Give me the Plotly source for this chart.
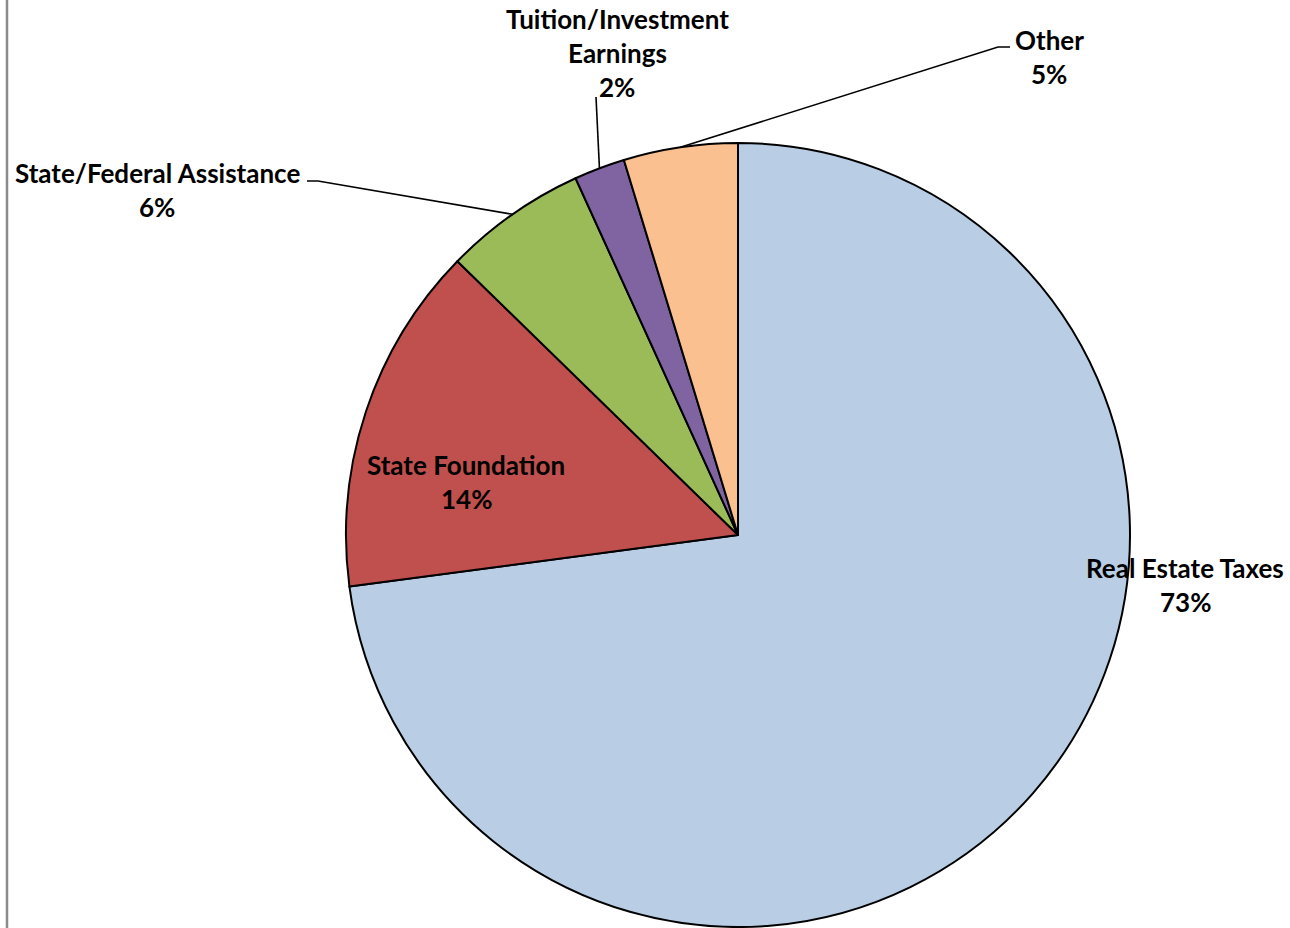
import math
import plotly.graph_objects as go

# ---- data ----
categories = ["Real Estate Taxes", "State Foundation", "State/Federal Assistance",
              "Tuition/Investment Earnings", "Other"]
values = [72.9, 14.4, 5.9, 2.1, 4.7]
colors = ["#B9CDE5", "#C0504D", "#9BBB59", "#8064A2", "#FAC090"]

# label lines (text split as in the reference)
label_lines = [
    ["Real Estate Taxes"],
    ["State Foundation"],
    ["State/Federal Assistance"],
    ["Tuition/Investment", "Earnings"],
    ["Other"],
]

# ---- layout geometry (pixels) ----
W, H = 1290, 928
CX, CY, R = 738, 535, 392
# top-line centre of each label block
label_pos = [(1185, 568), (466, 465), (157, 173), (617, 19), (1049, 40)]
LINE_GAP = 34
# leader line elbow points (None = no leader)
leader_elbow = [None, None, [(307, 181), (318, 181)], [(596, 97)], [(1010, 47), (998, 47)]]

FONT = "Lato"
FS = 26


def px(x):
    return x / W


def py(y):
    return 1 - y / H


fig = go.Figure(go.Pie(
    labels=categories,
    values=values,
    sort=False,
    direction="clockwise",
    rotation=0,
    marker=dict(colors=colors, line=dict(color="black", width=2)),
    textinfo="none",
    hoverinfo="label+percent",
    showlegend=False,
    domain=dict(x=[px(CX - R), px(CX + R)], y=[py(CY + R), py(CY - R)]),
))

annotations = []
shapes = []
total = sum(values)
cum = 0.0
for i, (cat, v) in enumerate(zip(categories, values)):
    mid = (cum + v / 2) / total * 2 * math.pi
    cum += v
    lines = label_lines[i] + [f"{round(v / total * 100)}%"]
    lx, ly = label_pos[i]
    for k, t in enumerate(lines):
        annotations.append(dict(
            x=px(lx), y=py(ly + k * LINE_GAP), xref="paper", yref="paper",
            text=t, showarrow=False, xanchor="center", yanchor="middle",
            font=dict(family=FONT, size=FS, color="black", weight="bold"),
        ))
    if leader_elbow[i]:
        ex = CX + R * math.sin(mid)
        ey = CY - R * math.cos(mid)
        pts = leader_elbow[i] + [(ex, ey)]
        path = "M " + " L ".join(f"{px(a)},{py(b)}" for a, b in pts)
        shapes.append(dict(type="path", xref="paper", yref="paper", path=path,
                           line=dict(color="black", width=1.6)))

# left frame line
shapes.append(dict(type="line", xref="paper", yref="paper",
                   x0=px(7), x1=px(7), y0=0, y1=1,
                   line=dict(color="#8C8C8C", width=2.5)))

fig.update_layout(
    width=W, height=H,
    margin=dict(l=0, r=0, t=0, b=0),
    paper_bgcolor="white", plot_bgcolor="white",
    annotations=annotations, shapes=shapes,
)

fig.write_html("out.html", config={"displayModeBar": False},
               post_script="document.body.style.margin='0';document.body.style.overflow='hidden';")
